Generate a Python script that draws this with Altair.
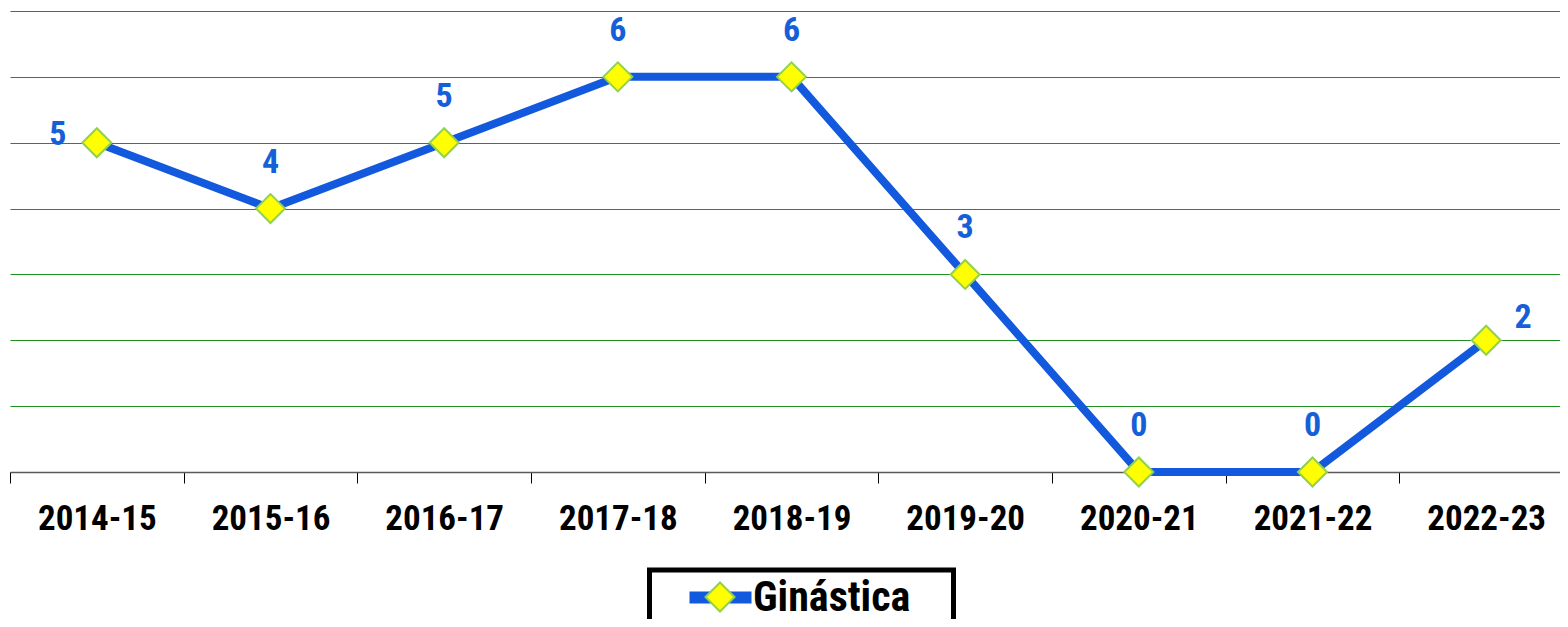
import altair as alt
import pandas as pd

seasons = ["2014-15", "2015-16", "2016-17", "2017-18", "2018-19",
           "2019-20", "2020-21", "2021-22", "2022-23"]
values = [5, 4, 5, 6, 6, 3, 0, 0, 2]
series_name = "Ginástica"
y_ticks = [0, 1, 2, 3, 4, 5, 6, 7]

df = pd.DataFrame({
    "season": seasons,
    "value": values,
    "serie": [series_name] * len(seasons),
    "serie2": [series_name] * len(seasons),
})

FONT = "Roboto Condensed"
BLUE = "#1259dd"
LABEL_BLUE = "#1560d8"
YELLOW = "#ffff00"
DIAMOND_STROKE = "#92d050"
GRID = "#1f8f1f"

x = alt.X(
    "season:N",
    sort=seasons,
    bandPosition=0.5,
    scale=alt.Scale(type="band", paddingInner=0, paddingOuter=0),
    axis=alt.Axis(
        title=None, labelAngle=0, tickBand="extent", tickSize=11,
        tickColor="#000000", tickWidth=1, domainColor="#595959", domainWidth=1.5,
        labelFont=FONT, labelFontSize=35, labelFontWeight="bold",
        labelColor="#000000", labelPadding=18, grid=False,
    ),
)
y = alt.Y(
    "value:Q",
    scale=alt.Scale(domain=[0, 7], nice=False),
    axis=alt.Axis(
        title=None, labels=False, ticks=False, domain=False,
        values=y_ticks, grid=True, gridColor=GRID, gridWidth=1,
    ),
)

base = alt.Chart(df).encode(x=x, y=y)

legend_common = dict(
    orient="none", legendX=639.5, legendY=559, padding=6,
    symbolOffset=43.5, labelOffset=11, labelFont=FONT, labelFontSize=42,
    labelFontWeight="bold", labelColor="#000000", labelLimit=600,
)

# framed legend: blue stroke symbol + label; blank title only widens the frame
line = base.mark_line(strokeWidth=8, strokeCap="butt", strokeJoin="miter").encode(
    stroke=alt.Stroke(
        "serie:N",
        scale=alt.Scale(range=[BLUE]),
        legend=alt.Legend(
            title="\u2800", titleOrient="right", titlePadding=30,
            titleColor="#ffffff", titleFontSize=10,
            symbolType="M-2,0L2,0", symbolSize=961, symbolStrokeWidth=12,
            strokeColor="#000000", **legend_common,
        ),
    )
)

# diamond drawn over the middle of the legend line
points = base.mark_point(
    shape="diamond", size=841, filled=True, opacity=1,
    stroke=DIAMOND_STROKE, strokeWidth=2,
).encode(
    fill=alt.Fill(
        "serie2:N",
        scale=alt.Scale(range=[YELLOW]),
        legend=alt.Legend(
            title=None,
            symbolType="diamond", symbolSize=841, symbolStrokeWidth=2,
            symbolStrokeColor=DIAMOND_STROKE, symbolFillColor=YELLOW,
            symbolOpacity=1, labelOpacity=0, **legend_common,
        ),
    )
)

text_style = dict(font=FONT, fontSize=34, fontWeight="bold", color=LABEL_BLUE,
                  baseline="middle", align="center")

labels_mid = base.transform_filter(
    alt.FieldOneOfPredicate(field="season", oneOf=seasons[1:-1])
).mark_text(dy=-46, **text_style).encode(text="value:Q")

label_first = base.transform_filter(
    alt.FieldEqualPredicate(field="season", equal=seasons[0])
).mark_text(dx=-39, dy=-8, **text_style).encode(text="value:Q")

label_last = base.transform_filter(
    alt.FieldEqualPredicate(field="season", equal=seasons[-1])
).mark_text(dx=37, dy=-22, **text_style).encode(text="value:Q")

chart = alt.layer(line, points, labels_mid, label_first, label_last).properties(
    width=1563, height=461,
    autosize=alt.AutoSizeParams(type="none"),
    padding={"left": 2, "top": 3, "right": -13, "bottom": 147},
    background="#ffffff",
).configure_view(stroke=None).configure_legend(strokeWidth=5, cornerRadius=0)

chart.save("out.html", embed_options={"renderer": "svg", "actions": False})
